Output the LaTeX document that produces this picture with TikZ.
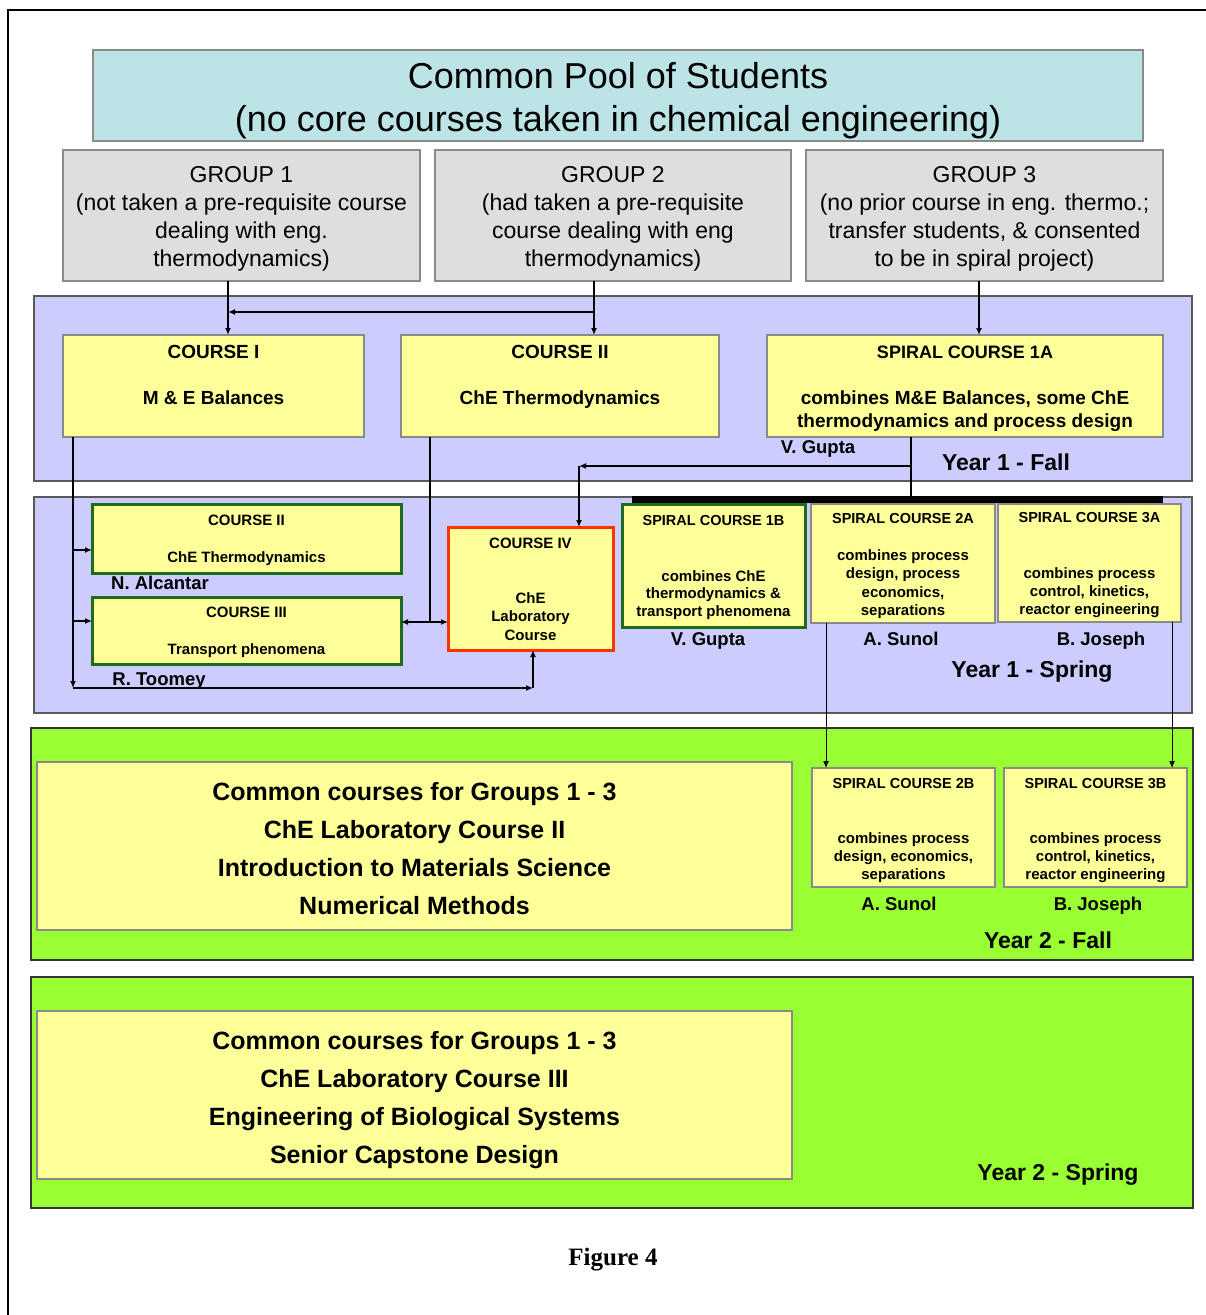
\documentclass[tikz,border=0pt]{standalone}
\usepackage{fontspec}
\setmainfont{Liberation Sans}
\newfontfamily\figserif{Liberation Serif}
\usetikzlibrary{fit,arrows.meta}

\definecolor{poolc}{HTML}{BCE4E6}
\definecolor{grpc}{HTML}{DEDEDE}
\definecolor{lavc}{HTML}{CCCCFF}
\definecolor{yelc}{HTML}{FFFF99}
\definecolor{grnc}{HTML}{99FF33}
\definecolor{dgrn}{HTML}{1E6B1E}
\definecolor{redc}{HTML}{FF3300}
\definecolor{edgec}{HTML}{8A8A8A}

\newcounter{tn}
% \tx{font}{size}{x}{y-centre}{text}: baseline placed 0.35 em below the visual centre
\newcommand\tx[5]{\stepcounter{tn}\node[txt,font={\fontsize{#2}{#2}\selectfont#1},name=t\arabic{tn}] at (#3,{#4+0.35*#2}) {#5};}
\newcommand\fr{\relax}
\newcommand\fb{\bfseries}

\tikzset{
  txt/.style={inner sep=0pt, anchor=base},
  panel/.style={draw=#1, line width=1.3pt, inner sep=0pt, outer sep=0pt},
  panel/.default={gray!70!black},
  poolbox/.style={fill=poolc, draw=edgec, line width=1.3pt, inner sep=0pt, outer sep=0pt},
  grpbox/.style={fill=grpc, draw=edgec, line width=1.3pt, inner sep=0pt, outer sep=0pt},
  ybox/.style={fill=yelc, draw=edgec, line width=1.2pt, inner sep=0pt, outer sep=0pt},
  gbox/.style={fill=yelc, draw=dgrn, line width=3pt, inner sep=0pt, outer sep=0pt},
  rbox/.style={fill=yelc, draw=redc, line width=3pt, inner sep=0pt, outer sep=0pt},
  arr/.style={-{Latex[length=7pt,width=6pt]}, line width=1.8pt},
  thinarr/.style={-{Latex[length=7pt,width=6pt]}, line width=1pt},
  conn/.style={line width=1.8pt},
}

\begin{document}
\begin{tikzpicture}[x=1pt,y=-1pt]
\useasboundingbox (0,0) rectangle (1206,1315);
\fill[white] (0,0) rectangle (1206,1315);

% outer frame (top and left sides visible)
\coordinate (fr1) at (8,1315);
\coordinate (fr2) at (8,10);
\coordinate (fr3) at (1206,10);
\draw[line width=2pt] (fr1) -- (fr2) -- (fr3);

% ---------- panels ----------
\node[panel, fill=lavc, fit={(34,296) (1192,481)}] (p1) {};
\node[panel, fill=lavc, fit={(34,497) (1192,713)}] (p2) {};
\node[panel={black!80}, fill=grnc, fit={(31,728) (1193,960)}] (p3) {};
\node[panel={black!80}, fill=grnc, fit={(31,977) (1193,1208)}] (p4) {};

% ---------- top boxes ----------
\node[poolbox, fit={(93,50) (1143,141)}] (pool) {};
\node[grpbox, fit={(63,150) (420,281)}] (g1) {};
\node[grpbox, fit={(435,150) (791,281)}] (g2) {};
\node[grpbox, fit={(806,150) (1163,281)}] (g3) {};

% ---------- Year 1 fall ----------
\node[ybox, fit={(63,335) (364,437)}] (c1) {};
\node[ybox, fit={(401,335) (719,437)}] (c2) {};
\node[ybox, fit={(767,335) (1163,437)}] (s1a) {};

% ---------- Year 1 spring ----------
\node[fill=black, inner sep=0pt, outer sep=0pt, fit={(632,496) (1163,503)}] (bar) {};
\node[gbox, fit={(92,504) (401,573)}] (sc2) {};
\node[gbox, fit={(92,597) (401,664)}] (sc3) {};
\node[rbox, fit={(448,527) (613,650)}] (c4) {};
\node[gbox, fit={(622,504) (805,627)}] (s1b) {};
\node[ybox, fit={(811,504) (995,623)}] (s2a) {};
\node[ybox, fit={(998,504) (1181,622)}] (s3a) {};

% ---------- Year 2 ----------
\node[ybox, fit={(37,762) (792,930)}] (cc1) {};
\node[ybox, fit={(812,768) (995,887)}] (s2b) {};
\node[ybox, fit={(1004,768) (1187,887)}] (s3b) {};
\node[ybox, fit={(37,1011) (792,1179)}] (cc2) {};

% ---------- connectors ----------
\coordinate (xa) at (228,0);
\coordinate (xb) at (594,0);
\coordinate (xc) at (979,0);
\coordinate (xd) at (911,0);
\coordinate (xe) at (73,0);
\coordinate (xf) at (430,0);
\coordinate (xg) at (826,0);
\coordinate (xh) at (1172,0);
\coordinate (ja) at (594,312);
\coordinate (jb) at (228,312);
\coordinate (jc) at (911,466);
\coordinate (jd) at (579,466);
\coordinate (je) at (73,688);
\coordinate (jf) at (533,688);
\coordinate (jg) at (73,550);
\coordinate (jh) at (73,621);
\coordinate (ji) at (430,622);

\draw[arr] (g1.south -| xa) -- (c1.north -| xa);
\draw[arr] (g2.south -| xb) -- (c2.north -| xb);
\draw[arr] (ja) -- (jb);
\draw[arr] (g3.south -| xc) -- (s1a.north -| xc);
\draw[conn] (s1a.south -| xd) -- (bar.north -| xd);
\draw[arr] (jc) -- (jd);
\draw[arr] (jd) -- (c4.north -| jd);
\draw[arr] (c1.south -| xe) -- (je);
\draw[arr] (je) -- (jf);
\draw[arr] (jf) -- (c4.south -| jf);
\draw[arr] (jg) -- (sc2.west |- jg);
\draw[arr] (jh) -- (sc3.west |- jh);
\draw[conn] (c2.south -| xf) -- (ji);
\draw[arr] (ji) -- (sc3.east |- ji);
\draw[arr] (ji) -- (c4.west |- ji);
\draw[thinarr] (s2a.south -| xg) -- (s2b.north -| xg);
\draw[thinarr] (s3a.south -| xh) -- (s3b.north -| xh);

% ---------- texts ----------
\tx{\fr}{36}{618}{76}{Common Pool of Students}
\tx{\fr}{36}{618}{119}{(no core courses taken in chemical engineering)}

\tx{\fr}{23}{241.5}{174}{GROUP 1}
\tx{\fr}{23}{241.5}{202}{(not taken a pre-requisite course}
\tx{\fr}{23}{241.5}{230}{dealing with eng.}
\tx{\fr}{23}{241.5}{258}{thermodynamics)}
\tx{\fr}{23}{613}{174}{GROUP 2}
\tx{\fr}{23}{613}{202}{(had taken a pre-requisite}
\tx{\fr}{23}{613}{230}{course dealing with eng}
\tx{\fr}{23}{613}{258}{thermodynamics)}
\tx{\fr}{23}{984.5}{174}{GROUP 3}
\tx{\fr}{23}{984.5}{202}{(no prior course in eng. thermo.;}
\tx{\fr}{23}{984.5}{230}{transfer students, \& consented}
\tx{\fr}{23}{984.5}{258}{to be in spiral project)}

\tx{\fb}{19}{213.5}{352}{COURSE I}
\tx{\fb}{19}{213.5}{398}{M \& E Balances}
\tx{\fb}{19}{560}{352}{COURSE II}
\tx{\fb}{19}{560}{398}{ChE Thermodynamics}
\tx{\fb}{18}{965}{352}{SPIRAL COURSE 1A}
\tx{\fb}{19}{965}{398}{combines M\&E Balances, some ChE}
\tx{\fb}{19}{965}{421}{thermodynamics and process design}
\tx{\fb}{18.5}{818}{447}{V. Gupta}
\tx{\fb}{23}{1006}{462}{Year 1 - Fall}

\tx{\fb}{15}{246.5}{520}{COURSE II}
\tx{\fb}{15}{246.5}{557}{ChE Thermodynamics}
\tx{\fb}{18.5}{160}{583}{N. Alcantar}
\tx{\fb}{15}{246.5}{612}{COURSE III}
\tx{\fb}{15}{246.5}{649}{Transport phenomena}
\tx{\fb}{18.5}{159}{679}{R. Toomey}
\tx{\fb}{15}{530.5}{543}{COURSE IV}
\tx{\fb}{15}{530.5}{598}{ChE}
\tx{\fb}{15}{530.5}{616}{Laboratory}
\tx{\fb}{15}{530.5}{635}{Course}
\tx{\fb}{14.5}{713.5}{520}{SPIRAL COURSE 1B}
\tx{\fb}{15}{713.5}{576}{combines ChE}
\tx{\fb}{15}{713.5}{593}{thermodynamics \&}
\tx{\fb}{15}{713.5}{611}{transport phenomena}
\tx{\fb}{18.5}{708}{639}{V. Gupta}
\tx{\fb}{14.5}{903}{518}{SPIRAL COURSE 2A}
\tx{\fb}{15}{903}{555}{combines process}
\tx{\fb}{15}{903}{573}{design, process}
\tx{\fb}{15}{903}{592}{economics,}
\tx{\fb}{15}{903}{610}{separations}
\tx{\fb}{18.5}{901}{639}{A. Sunol}
\tx{\fb}{14.5}{1089.5}{517}{SPIRAL COURSE 3A}
\tx{\fb}{15}{1089.5}{573}{combines process}
\tx{\fb}{15}{1089.5}{591}{control, kinetics,}
\tx{\fb}{15}{1089.5}{609}{reactor engineering}
\tx{\fb}{18.5}{1101}{639}{B. Joseph}
\tx{\fb}{23}{1032}{669}{Year 1 - Spring}

\tx{\fb}{25}{414.5}{792}{Common courses for Groups 1 - 3}
\tx{\fb}{25}{414.5}{830}{ChE Laboratory Course II}
\tx{\fb}{25}{414.5}{868}{Introduction to Materials Science}
\tx{\fb}{25}{414.5}{906}{Numerical Methods}
\tx{\fb}{14.5}{903.5}{783}{SPIRAL COURSE 2B}
\tx{\fb}{15}{903.5}{838}{combines process}
\tx{\fb}{15}{903.5}{856}{design, economics,}
\tx{\fb}{15}{903.5}{874}{separations}
\tx{\fb}{14.5}{1095.5}{783}{SPIRAL COURSE 3B}
\tx{\fb}{15}{1095.5}{838}{combines process}
\tx{\fb}{15}{1095.5}{856}{control, kinetics,}
\tx{\fb}{15}{1095.5}{874}{reactor engineering}
\tx{\fb}{18.5}{899}{904}{A. Sunol}
\tx{\fb}{18.5}{1098}{904}{B. Joseph}
\tx{\fb}{23}{1048}{940}{Year 2 - Fall}

\tx{\fb}{25}{414.5}{1041}{Common courses for Groups 1 - 3}
\tx{\fb}{25}{414.5}{1079}{ChE Laboratory Course III}
\tx{\fb}{25}{414.5}{1117}{Engineering of Biological Systems}
\tx{\fb}{25}{414.5}{1155}{Senior Capstone Design}
\tx{\fb}{23}{1058}{1172}{Year 2 - Spring}

\tx{\figserif\bfseries}{25}{613}{1257}{Figure 4}
\end{tikzpicture}
\end{document}
